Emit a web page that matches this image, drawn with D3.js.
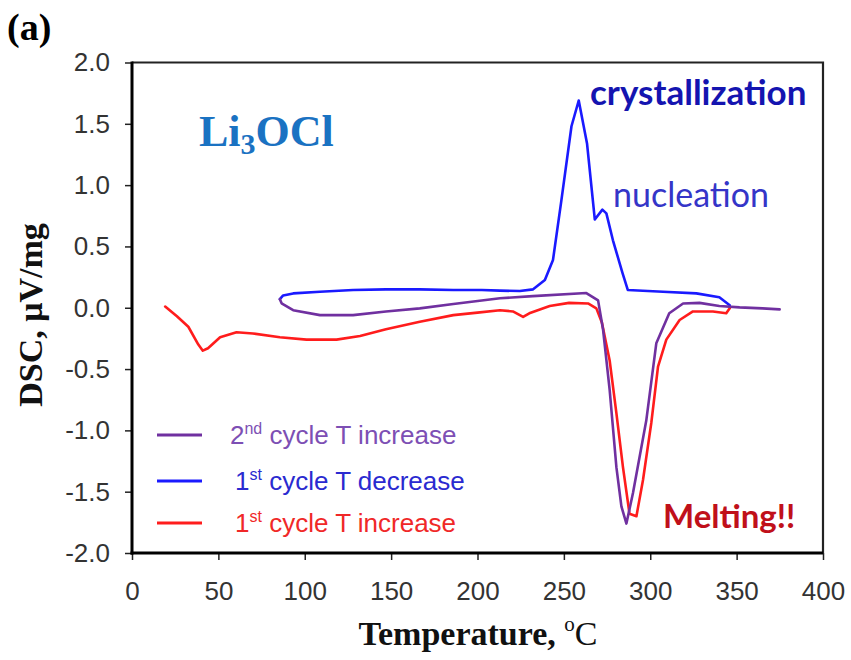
<!DOCTYPE html>
<html>
<head>
<meta charset="utf-8">
<script src="https://cdn.jsdelivr.net/npm/d3@7/dist/d3.min.js"></script>
<style>
  body { margin: 0; background: #fff; }
  svg { display: block; }
</style>
</head>
<body>
<svg id="chart" width="851" height="660"></svg>
<script>
// ---- data ----
const xTicks = [0, 50, 100, 150, 200, 250, 300, 350, 400];
const yTicks = [2.0, 1.5, 1.0, 0.5, 0.0, -0.5, -1.0, -1.5, -2.0];
const yTickLabels = ["2.0", "1.5", "1.0", "0.5", "0.0", "-0.5", "-1.0", "-1.5", "-2.0"];

// 1st cycle T increase (red)
const redT = [19.2, 26, 32.6, 38.4, 41, 44, 51, 60.5, 70, 85.6, 101, 118.4, 132, 147, 166.6, 186, 200, 213, 220.5, 226.4, 230, 241.8, 253, 264, 268.8, 272, 276.5, 280.4, 284.2, 288, 292, 295.8, 300.6, 304.5, 309.3, 317, 324.7, 336.3, 344, 346];
const redV = [0.01, -0.07, -0.155, -0.30, -0.35, -0.33, -0.24, -0.20, -0.21, -0.24, -0.26, -0.26, -0.23, -0.176, -0.114, -0.06, -0.04, -0.02, -0.03, -0.075, -0.045, 0.015, 0.04, 0.035, -0.005, -0.12, -0.43, -0.86, -1.30, -1.68, -1.70, -1.405, -0.94, -0.48, -0.26, -0.10, -0.03, -0.03, -0.045, -0.005];

// 1st cycle T decrease (blue), in the order it was measured (cooling)
const blueT = [346, 340, 326.7, 307.4, 287, 284, 278.4, 274.6, 272.3, 267.9, 263.4, 258.6, 254.4, 248.6, 243.7, 239, 232.2, 224.5, 213, 202.5, 186, 166.6, 147, 128, 108.8, 93.3, 87.5, 85.6];
const blueV = [0.02, 0.085, 0.117, 0.13, 0.145, 0.28, 0.55, 0.77, 0.80, 0.72, 1.34, 1.69, 1.48, 0.88, 0.39, 0.226, 0.15, 0.136, 0.14, 0.145, 0.145, 0.15, 0.15, 0.145, 0.13, 0.117, 0.10, 0.07];

// 2nd cycle T increase (purple)
const purpleT = [85.6, 86.6, 93.3, 108.8, 128, 147, 166.6, 186, 213, 232, 263, 269.8, 272.7, 276.5, 280.4, 283.3, 286.2, 290, 297.7, 303.5, 311, 319, 328.5, 340, 351.7, 365, 374.9];
const purpleV = [0.07, 0.036, -0.02, -0.06, -0.06, -0.03, -0.005, 0.03, 0.077, 0.095, 0.12, 0.06, -0.18, -0.67, -1.30, -1.62, -1.76, -1.51, -0.92, -0.29, -0.045, 0.035, 0.04, 0.014, 0.003, -0.005, -0.013];

const seriesPre = ["2", "1", "1"];
const seriesSup = ["nd", "st", "st"];
const seriesRest = [" cycle T increase", " cycle T decrease", " cycle T increase"];

// ---- layout ----
const svg = d3.select("#chart");
const X0 = 132, X1 = 823, Y0 = 62.5, Y1 = 553;
const x = d3.scaleLinear().domain([0, 400]).range([X0, X1]);
const y = d3.scaleLinear().domain([-2, 2]).range([Y1, Y0]);

const colors = { purple: "#7030a0", blue: "#1a1aff", red: "#ff1c1c" };
const textColors = ["#7d4fb4", "#2a2ad0", "#f02828"];
const lineColors = [colors.purple, colors.blue, colors.red];

// frame (top & right)
svg.append("path")
  .attr("d", `M${X0},${Y0} H${X1} V${Y1}`)
  .attr("fill", "none").attr("stroke", "#222").attr("stroke-width", 2.2);

// axes
const xAxis = d3.axisBottom(x).tickValues(xTicks).tickSize(7).tickPadding(22).tickFormat(d3.format("d"));
const yAxis = d3.axisLeft(y).tickValues(yTicks).tickSize(7).tickPadding(15)
  .tickFormat((d, i) => yTickLabels[i]);

const gx = svg.append("g").attr("transform", `translate(0,${Y1})`).call(xAxis);
const gy = svg.append("g").attr("transform", `translate(${X0},0)`).call(yAxis);
[gx, gy].forEach(g => {
  g.select(".domain").remove();
  g.selectAll(".tick line").attr("stroke", "#222").attr("stroke-width", 1.5);
  g.selectAll(".tick text")
    .attr("font-family", "Liberation Sans, Arial, sans-serif")
    .attr("font-size", 26).attr("fill", "#333");
});
// thick axis lines
svg.append("line").attr("x1", X0).attr("x2", X0).attr("y1", Y0 - 1).attr("y2", Y1 + 1.5)
  .attr("stroke", "#000").attr("stroke-width", 3);
svg.append("line").attr("x1", X0 - 1.5).attr("x2", X1).attr("y1", Y1).attr("y2", Y1)
  .attr("stroke", "#000").attr("stroke-width", 3);

// curves
const lineGen = d3.line().x(d => x(d[0])).y(d => y(d[1])).curve(d3.curveLinear);
function draw(T, V, color) {
  svg.append("path").datum(T.map((t, i) => [t, V[i]]))
    .attr("d", lineGen).attr("fill", "none")
    .attr("stroke", color).attr("stroke-width", 2.6)
    .attr("stroke-linejoin", "round").attr("stroke-linecap", "round");
}
draw(redT, redV, colors.red);
draw(blueT, blueV, colors.blue);
draw(purpleT, purpleV, colors.purple);

// legend
const legY = [435, 481, 523];
const legTextX = [230, 235, 235];
seriesPre.forEach((pre, i) => {
  svg.append("line").attr("x1", 157).attr("x2", 202).attr("y1", legY[i]).attr("y2", legY[i])
    .attr("stroke", lineColors[i]).attr("stroke-width", 3);
  const t = svg.append("text").attr("x", legTextX[i]).attr("y", legY[i] + 9)
    .attr("font-family", "Liberation Sans, Arial, sans-serif").attr("font-size", 26)
    .attr("fill", textColors[i]);
  t.append("tspan").text(pre);
  t.append("tspan").attr("font-size", 16).attr("dy", -10).text(seriesSup[i]);
  t.append("tspan").attr("dy", 10).text(seriesRest[i]);
});

// axis titles
const xt = svg.append("text").attr("x", 478).attr("y", 645).attr("text-anchor", "middle")
  .attr("font-family", "Liberation Serif, Times New Roman, serif").attr("font-weight", "bold")
  .attr("font-size", 34).attr("fill", "#111");
xt.append("tspan").text("Temperature, ");
xt.append("tspan").attr("font-size", 21).attr("dy", -14).attr("font-weight", "normal").text("o");
xt.append("tspan").attr("dy", 14).attr("font-weight", "normal").text("C");

svg.append("text").attr("transform", "translate(42,315) rotate(-90)").attr("text-anchor", "middle")
  .attr("font-family", "Liberation Serif, Times New Roman, serif").attr("font-weight", "bold")
  .attr("font-size", 34).attr("fill", "#111").text("DSC, μV/mg");

// panel letter
svg.append("text").attr("x", 7).attr("y", 40)
  .attr("font-family", "Liberation Serif, Times New Roman, serif").attr("font-weight", "bold")
  .attr("font-size", 38).attr("fill", "#000").text("(a)");

// compound label
const li = svg.append("text").attr("x", 199).attr("y", 146)
  .attr("font-family", "Liberation Serif, Times New Roman, serif").attr("font-weight", "bold")
  .attr("font-size", 44).attr("fill", "#1a72c2");
li.append("tspan").text("Li");
li.append("tspan").attr("font-size", 30).attr("dy", 8).text("3");
li.append("tspan").attr("dy", -8).text("OCl");

// annotations
svg.append("text").attr("x", 590).attr("y", 105)
  .attr("font-family", "Lato, Open Sans, sans-serif").attr("font-weight", "bold")
  .attr("font-size", 35).attr("fill", "#1414b0").text("crystallization");
svg.append("text").attr("x", 613).attr("y", 207)
  .attr("font-family", "Lato, Open Sans, sans-serif")
  .attr("font-size", 34).attr("fill", "#3535c8").text("nucleation");
svg.append("text").attr("x", 663).attr("y", 528)
  .attr("font-family", "Lato, Open Sans, sans-serif").attr("font-weight", "bold")
  .attr("font-size", 33).attr("fill", "#c0101a").text("Melting!!");
</script>
</body>
</html>
